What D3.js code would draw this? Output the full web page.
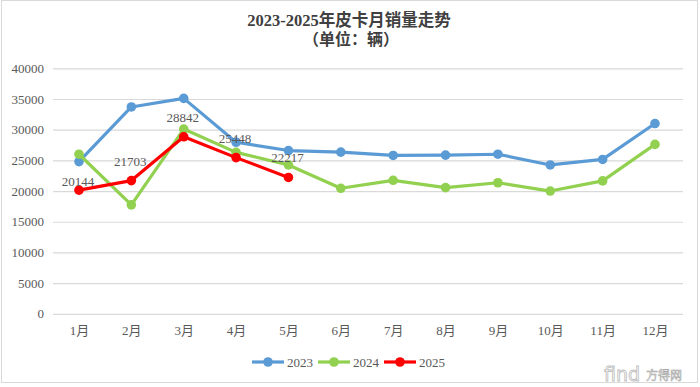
<!DOCTYPE html>
<html><head><meta charset="utf-8">
<script src="https://cdn.jsdelivr.net/npm/d3@7"></script>
<style>body{margin:0;background:#fff}svg{display:block}</style>
</head><body><svg id="c" width="700" height="387"></svg>
<script>
const months = ["1月","2月","3月","4月","5月","6月","7月","8月","9月","10月","11月","12月"];
const sales2023 = [24800,33700,35100,27950,26600,26350,25800,25850,26000,24250,25150,31000];
const sales2024 = [26000,17750,30100,26300,24250,20450,21750,20550,21350,20000,21650,27600];
const sales2025 = [20144,21703,28842,25448,22217];
const yTicks = [0,5000,10000,15000,20000,25000,30000,35000,40000];
const seriesNames = ["2023","2024","2025"];
const colors = ["#5B9BD5","#92D050","#FF0000"];

const svg = d3.select("#c");
const font = "'Liberation Serif','Noto Sans CJK SC',serif";
const grey = "#595959";

svg.append("rect").attr("x",1.5).attr("y",0.5).attr("width",696).attr("height",382)
  .attr("fill","#fff").attr("stroke","#d9d9d9");

svg.append("text").attr("x",349).attr("y",26).attr("text-anchor","middle")
  .attr("font-family",font).attr("font-size",16.5).attr("font-weight","bold").attr("fill","#404040")
  .text("2023-2025年皮卡月销量走势");
svg.append("text").attr("x",351).attr("y",45).attr("text-anchor","middle")
  .attr("font-family",font).attr("font-size",16).attr("font-weight","bold").attr("fill","#404040")
  .text("（单位：辆）");

const x = d3.scalePoint().domain(months).range([79,655]);
const y = d3.scaleLinear().domain([0,40000]).range([313.8,68.3]);

const gy = svg.append("g").attr("transform","translate(53,0)")
  .call(d3.axisLeft(y).tickValues(yTicks).tickSize(-630).tickPadding(9).tickFormat(d3.format("d")));
gy.select(".domain").remove();
gy.selectAll(".tick line").attr("stroke","#d9d9d9").attr("stroke-width",1.2);
gy.selectAll(".tick text").attr("font-family",font).attr("font-size",13).attr("fill",grey);

const gx = svg.append("g").attr("transform","translate(0,313.8)")
  .call(d3.axisBottom(x).tickSize(0).tickPadding(12));
gx.select(".domain").remove();
gx.selectAll(".tick text").attr("font-family",font).attr("font-size",13).attr("fill",grey);

const allSeries = [sales2023, sales2024, sales2025];
const line = d3.line().x((d,i)=>x(months[i])).y(d=>y(d));
allSeries.forEach((s,k)=>{
  svg.append("path").datum(s).attr("d",line).attr("fill","none")
    .attr("stroke",colors[k]).attr("stroke-width",3.2).attr("stroke-linejoin","round");
  svg.append("g").selectAll("circle").data(s).join("circle")
    .attr("cx",(d,i)=>x(months[i])).attr("cy",d=>y(d)).attr("r",4.8).attr("fill",colors[k]);
});

const labelLift = [4,15,15,15,15];
svg.append("g").selectAll("text").data(sales2025).join("text")
  .attr("x",(d,i)=>x(months[i])-1).attr("y",(d,i)=>y(d)-labelLift[i])
  .attr("text-anchor","middle").attr("font-family",font).attr("font-size",13).attr("fill",grey)
  .text(d=>d);

// legend
const lg = svg.append("g");
const lx = [252,318,384];
seriesNames.forEach((n,k)=>{
  lg.append("line").attr("x1",lx[k]).attr("x2",lx[k]+32).attr("y1",362).attr("y2",362)
    .attr("stroke",colors[k]).attr("stroke-width",3.2);
  lg.append("circle").attr("cx",lx[k]+16).attr("cy",362).attr("r",4.8).attr("fill",colors[k]);
  lg.append("text").attr("x",lx[k]+35).attr("y",366.5).attr("font-family",font)
    .attr("font-size",13).attr("fill",grey).text(n);
});

// watermark
svg.append("text").attr("x",604).attr("y",381).attr("font-family","'DejaVu Sans',sans-serif")
  .attr("font-size",19).attr("fill","#fff").attr("stroke","#bbb").attr("stroke-width",0.8).text("find");
svg.append("text").attr("x",646).attr("y",380).attr("font-family","'Noto Sans CJK SC',sans-serif")
  .attr("font-size",12).attr("fill","#fff").attr("stroke","#aaa").attr("stroke-width",0.6).text("方得网");
</script></body></html>
